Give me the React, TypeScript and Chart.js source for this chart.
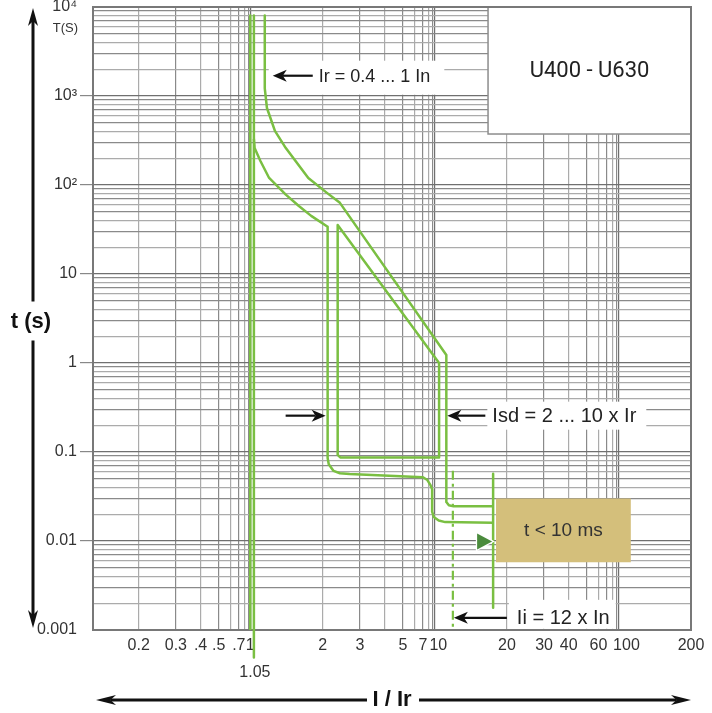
import React, { useEffect, useRef } from 'react';
import { Chart, registerables, LogarithmicScale } from 'chart.js';

Chart.register(...registerables);

// ---------- axes ----------
// The x axis of this chart is a distorted log axis: where the gridlines 1..10 sit inside each decade.
const X_DECADE_FRACTIONS = [0, 0.394, 0.596, 0.73, 0.829, 0.891, 0.938, 0.969, 0.99, 1];
const X_MIN = 0.137;
const X_MAX = 200;
const Y_MIN = 0.001;
const Y_MAX = 10000;

const X_GRID = [0.2, 0.3, 0.4, 0.5, 0.6, 0.7, 0.8, 0.9, 1, 2, 3, 4, 5, 6, 7, 8, 9, 10, 20, 30, 40, 50, 60, 70, 80, 90, 100, 200];
const X_TICK_VALUES = [0.2, 0.3, 0.4, 0.5, 0.7, 1, 2, 3, 5, 7, 10, 20, 30, 40, 60, 100, 200];
// "10" and "100" sit a little to the right of their gridlines in the reference (space before them)
const X_TICK_LABELS = ['0.2', '0.3', '.4', '.5', '.7', '1', '2', '3', '5', '7', '\u200210', '20', '30', '40', '60', '\u2003100', '200'];
const Y_TICK_VALUES = [10000, 1000, 100, 10, 1, 0.1, 0.01, 0.001];
const Y_TICK_LABELS = ['10⁴', '10³', '10²', '10', '1', '0.1', '0.01', '0.001'];

// ---------- series (x = I/Ir, y = t in s) ----------
const IR_LINE_X = [1, 1];
const IR_LINE_Y = [8000, 0.001];
const NONTRIP_X = [1.05, 1.05];
const NONTRIP_Y = [8000, 0.00049];
const LOWER_X = [1.05, 1.06, 1.14, 1.26, 1.49, 1.67, 1.84, 2.13, 2.13, 2.16, 2.29, 2.46, 2.72, 7.0, 7.77, 8.48, 8.9, 8.9, 9.7, 10.6, 11.5, 18.1];
const LOWER_Y = [330, 260, 186, 120, 78, 58, 45, 34, 0.0855, 0.073, 0.0613, 0.0577, 0.0567, 0.052, 0.0484, 0.0425, 0.038, 0.0214, 0.0186, 0.017, 0.0163, 0.016];
const UPPER_X = [1.2, 1.2, 1.23, 1.34, 1.49, 1.8, 2.12, 2.46, 11.65, 11.65, 12.0, 12.65, 18.1];
const UPPER_Y = [8000, 1220, 733, 405, 260, 120, 81, 63, 1.23, 0.0275, 0.0252, 0.0245, 0.0245];
const SHORT_X = [2.4, 2.4, 2.47, 10.65, 10.65, 2.4];
const SHORT_Y = [35.6, 0.093, 0.087, 0.087, 1.0, 35.6];
const INST_X = [18.1, 18.1];
const INST_Y = [0.057, 0.00178];
const II_X = [12.55, 12.55];
const II_Y = [0.0616, 0.001];

// ---------- annotation anchors (data units) ----------
const TITLE_BOX_LEFT = 17.4;
const TITLE_BOX_BOTTOM = 374;
const TAN_BOX_X = [18.5, 117];
const TAN_BOX_Y = [0.03, 0.00577];
const TRIANGLE_TIP = [17.96, 0.0099];
const IR_ARROW_TIP = [1.31, 1690];
const ISD_LEFT_TIP = [2.13, 0.256];
const ISD_RIGHT_TIP = [11.65, 0.256];
const II_ARROW_TIP = [12.55, 0.00137];

const GREEN = '#7abf42';
const FONT = '"Liberation Sans", Arial, sans-serif';

function warp(v: number): number {
  let e = Math.floor(Math.log10(v) + 1e-12);
  let m = v / Math.pow(10, e);
  if (m >= 10) { m /= 10; e += 1; }
  if (m < 1) { m *= 10; e -= 1; }
  const i = Math.min(8, Math.max(0, Math.floor(m) - 1));
  const t = m - (i + 1);
  const f0 = X_DECADE_FRACTIONS[i];
  const f1 = X_DECADE_FRACTIONS[i + 1];
  return e + f0 + t * (f1 - f0);
}

function unwarp(w: number): number {
  const e = Math.floor(w);
  const f = w - e;
  let i = 0;
  while (i < 8 && f > X_DECADE_FRACTIONS[i + 1]) i++;
  const f0 = X_DECADE_FRACTIONS[i];
  const f1 = X_DECADE_FRACTIONS[i + 1];
  return (i + 1 + (f - f0) / (f1 - f0)) * Math.pow(10, e);
}

class WarpedLogScale extends LogarithmicScale {
  static id = 'warpedLog';
  static defaults = {};
  getPixelForValue(value: number): number {
    if (value === undefined || value === null || isNaN(value) || value <= 0) return NaN;
    const a = warp(this.min);
    const b = warp(this.max);
    return this.getPixelForDecimal((warp(value) - a) / (b - a));
  }
  getValueForPixel(pixel: number): number {
    const a = warp(this.min);
    const b = warp(this.max);
    return unwarp(a + this.getDecimalForPixel(pixel) * (b - a));
  }
}
Chart.register(WarpedLogScale as any);

function mantissa(v: number): number {
  const e = Math.floor(Math.log10(v) + 1e-9);
  return Math.round(v / Math.pow(10, e));
}

function gridColor(c: any): string {
  const v = c.tick && c.tick.value;
  if (!v) return '#999';
  const m = mantissa(v);
  if (m === 1) return '#707070';
  return m % 2 === 0 ? '#ababab' : '#8a8a8a';
}

function pts(xs: number[], ys: number[]) {
  return xs.map((x, i) => ({ x, y: ys[i] }));
}

function arrow(ctx: CanvasRenderingContext2D, tx: number, ty: number, px: number, py: number, len: number, half: number, lw: number) {
  const ang = Math.atan2(py - ty, px - tx);
  const c = Math.cos(ang), s = Math.sin(ang);
  const bx = px - len * c, by = py - len * s;
  const nx = px - len * 0.72 * c, ny = py - len * 0.72 * s;
  ctx.beginPath();
  ctx.moveTo(tx, ty);
  ctx.lineTo(nx, ny);
  ctx.lineWidth = lw;
  ctx.stroke();
  ctx.beginPath();
  ctx.moveTo(px, py);
  ctx.lineTo(bx - half * s, by + half * c);
  ctx.lineTo(nx, ny);
  ctx.lineTo(bx + half * s, by - half * c);
  ctx.closePath();
  ctx.fill();
}

const decorations = {
  id: 'decorations',
  beforeDatasetsDraw(chart: any) {
    const { ctx, chartArea: a, scales } = chart;
    const X = scales.x, Y = scales.y;
    ctx.save();
    // title box
    const bx = X.getPixelForValue(TITLE_BOX_LEFT);
    const by = Y.getPixelForValue(TITLE_BOX_BOTTOM);
    ctx.fillStyle = '#ffffff';
    ctx.fillRect(bx, a.top, a.right - bx, by - a.top);
    ctx.strokeStyle = '#8c8c8c';
    ctx.lineWidth = 1.5;
    ctx.strokeRect(bx, a.top, a.right - bx, by - a.top);
    // tan box
    const tx0 = X.getPixelForValue(TAN_BOX_X[0]), tx1 = X.getPixelForValue(TAN_BOX_X[1]);
    const ty0 = Y.getPixelForValue(TAN_BOX_Y[0]), ty1 = Y.getPixelForValue(TAN_BOX_Y[1]);
    ctx.fillStyle = '#d4bf7b';
    ctx.fillRect(tx0, ty0, tx1 - tx0, ty1 - ty0);
    // white label boxes
    ctx.fillStyle = '#ffffff';
    ctx.font = `18px ${FONT}`;
    {
      const x = X.getPixelForValue(IR_ARROW_TIP[0]), y = Y.getPixelForValue(IR_ARROW_TIP[1]);
      const w = ctx.measureText('Ir = 0.4 ... 1 In').width;
      ctx.fillRect(x - 4, y - 15, 4 + 46 + w + 14, 34);
    }
    ctx.font = `20px ${FONT}`;
    {
      const x = X.getPixelForValue(ISD_RIGHT_TIP[0]) + 1, y = Y.getPixelForValue(ISD_RIGHT_TIP[1]);
      const w = ctx.measureText('Isd = 2 ... 10 x Ir').width;
      ctx.fillRect(x + 40, y - 14, 5 + w + 10, 28);
    }
    {
      const x = X.getPixelForValue(II_ARROW_TIP[0]) + 1, y = Y.getPixelForValue(II_ARROW_TIP[1]);
      const w = ctx.measureText('Ii = 12 x In').width;
      ctx.fillRect(x + 55, y - 18, 8 + w + 6, 29);
    }
    // plot frame
    ctx.strokeStyle = '#787878';
    ctx.lineWidth = 2;
    ctx.strokeRect(a.left, a.top, a.right - a.left, a.bottom - a.top);
    ctx.restore();
  },
  afterDatasetsDraw(chart: any) {
    const { ctx, chartArea: a, scales } = chart;
    const X = scales.x, Y = scales.y;
    ctx.save();
    ctx.textBaseline = 'middle';
    // title
    const bx = X.getPixelForValue(TITLE_BOX_LEFT);
    const by = Y.getPixelForValue(TITLE_BOX_BOTTOM);
    ctx.fillStyle = '#222';
    ctx.textAlign = 'center';
    ctx.font = '22px Roboto, "Liberation Sans", sans-serif';
    ctx.fillText('U400 - U630', (bx + a.right) / 2, (a.top + by) / 2 + 1);
    // tan box text
    const tx0 = X.getPixelForValue(TAN_BOX_X[0]), tx1 = X.getPixelForValue(TAN_BOX_X[1]);
    const ty0 = Y.getPixelForValue(TAN_BOX_Y[0]), ty1 = Y.getPixelForValue(TAN_BOX_Y[1]);
    ctx.fillStyle = '#333';
    ctx.font = `19px ${FONT}`;
    ctx.fillText('t < 10 ms', (tx0 + tx1) / 2, (ty0 + ty1) / 2);
    // triangle
    {
      const x = X.getPixelForValue(TRIANGLE_TIP[0]), y = Y.getPixelForValue(TRIANGLE_TIP[1]);
      ctx.beginPath();
      ctx.moveTo(x, y);
      ctx.lineTo(x - 15, y - 8);
      ctx.lineTo(x - 15, y + 8);
      ctx.closePath();
      ctx.strokeStyle = '#ffffff';
      ctx.lineWidth = 2.5;
      ctx.stroke();
      ctx.fillStyle = '#4b8b3d';
      ctx.fill();
    }
    ctx.fillStyle = '#111';
    ctx.strokeStyle = '#111';
    ctx.textAlign = 'left';
    // Ir label
    {
      const x = X.getPixelForValue(IR_ARROW_TIP[0]), y = Y.getPixelForValue(IR_ARROW_TIP[1]);
      arrow(ctx, x + 40, y, x, y, 14, 6, 2.2);
      ctx.fillStyle = '#222';
      ctx.font = `18px ${FONT}`;
      ctx.fillText('Ir = 0.4 ... 1 In', x + 46, y + 1);
    }
    // Isd label
    {
      ctx.fillStyle = '#111';
      const lx = X.getPixelForValue(ISD_LEFT_TIP[0]) - 2, y = Y.getPixelForValue(ISD_LEFT_TIP[1]);
      arrow(ctx, lx - 40, y, lx, y, 14, 6, 2.2);
      const rx = X.getPixelForValue(ISD_RIGHT_TIP[0]) + 1;
      arrow(ctx, rx + 38, y, rx, y, 14, 6, 2.2);
      ctx.fillStyle = '#222';
      ctx.font = `20px ${FONT}`;
      ctx.fillText('Isd = 2 ... 10 x Ir', rx + 45, y + 1);
    }
    // Ii label
    {
      ctx.fillStyle = '#111';
      const x = X.getPixelForValue(II_ARROW_TIP[0]) + 1, y = Y.getPixelForValue(II_ARROW_TIP[1]);
      arrow(ctx, x + 53, y, x, y, 14, 6, 2.2);
      ctx.fillStyle = '#222';
      ctx.font = `20px ${FONT}`;
      ctx.fillText('Ii = 12 x In', x + 63, y + 1);
    }
    // axis decorations
    ctx.fillStyle = '#333';
    ctx.textAlign = 'right';
    ctx.font = `13px ${FONT}`;
    ctx.fillText('T(S)', 78, a.top + 21);
    ctx.textAlign = 'center';
    ctx.font = `16px ${FONT}`;
    ctx.fillText('1.05', X.getPixelForValue(1.05) + 1, 673);

    ctx.fillStyle = '#111';
    ctx.strokeStyle = '#111';
    const midY = (a.top + a.bottom) / 2 + 3;
    const ax = 33;
    arrow(ctx, ax, midY - 20, ax, a.top + 1, 18, 5, 3);
    arrow(ctx, ax, midY + 19, ax, a.bottom - 2, 18, 5, 3);
    ctx.font = `bold 22px ${FONT}`;
    ctx.fillText('t (s)', 31, midY);
    const midX = (a.left + a.right) / 2;
    const ay = 700;
    arrow(ctx, midX - 25, ay, a.left + 3, ay, 20, 5, 3);
    arrow(ctx, midX + 27, ay, a.right, ay, 20, 5, 3);
    ctx.fillText('I / Ir', midX, ay);
    ctx.restore();
  },
};

function lineDs(xs: number[], ys: number[], extra: any = {}) {
  return {
    data: pts(xs, ys),
    showLine: true,
    borderColor: GREEN,
    backgroundColor: GREEN,
    borderWidth: 2.5,
    pointRadius: 0,
    tension: 0,
    fill: false,
    borderJoinStyle: 'round',
    ...extra,
  };
}

export default function App() {
  const ref = useRef<HTMLCanvasElement>(null);
  useEffect(() => {
    const canvas = ref.current;
    if (!canvas) return;
    const chart = new Chart(canvas, {
      type: 'scatter',
      data: {
        datasets: [
          lineDs(IR_LINE_X, IR_LINE_Y),
          lineDs(NONTRIP_X, NONTRIP_Y, { clip: false }),
          lineDs(LOWER_X, LOWER_Y),
          lineDs(UPPER_X, UPPER_Y),
          lineDs(SHORT_X, SHORT_Y),
          lineDs(INST_X, INST_Y),
          lineDs(II_X, II_Y, { borderDash: [9, 4, 3, 4], borderWidth: 2.2 }),
        ] as any,
      },
      options: {
        animation: false,
        responsive: false,
        events: [],
        layout: { padding: { top: 7, right: 21, left: 0, bottom: 0 } },
        plugins: { legend: { display: false }, tooltip: { enabled: false }, title: { display: false } },
        scales: {
          x: {
            type: 'warpedLog' as any,
            min: X_MIN,
            max: X_MAX,
            afterBuildTicks: (axis: any) => {
              axis.ticks = X_GRID.map((v) => ({ value: v }));
            },
            afterFit: (scale: any) => {
              scale.height = 83;
              scale.paddingLeft = 0;
              scale.paddingRight = 0;
            },
            border: { display: false },
            grid: { color: gridColor, lineWidth: 1.2, drawTicks: false },
            ticks: {
              autoSkip: false,
              maxRotation: 0,
              minRotation: 0,
              padding: 6,
              color: '#333',
              font: { family: FONT, size: 16 },
              callback: (value: any) => {
                const i = X_TICK_VALUES.findIndex((t) => Math.abs(t - value) / t < 1e-6);
                return i >= 0 ? X_TICK_LABELS[i] : '';
              },
            },
          } as any,
          y: {
            type: 'logarithmic',
            min: Y_MIN,
            max: Y_MAX,
            afterBuildTicks: (axis: any) => {
              const t: { value: number }[] = [];
              for (let e = -3; e <= 3; e++) {
                for (let m = 1; m <= 9; m++) t.push({ value: Number((m * Math.pow(10, e)).toPrecision(6)) });
              }
              t.push({ value: 10000 });
              axis.ticks = t;
            },
            afterFit: (scale: any) => {
              scale.width = 93;
              scale.paddingTop = 0;
              scale.paddingBottom = 0;
            },
            border: { display: false },
            grid: {
              color: gridColor,
              lineWidth: 1.2,
              drawTicks: true,
              tickLength: 13,
              tickColor: (c: any) => {
                const v = c.tick && c.tick.value;
                return v && mantissa(v) === 1 && v < 5000 && v > 0.002 ? '#888' : 'rgba(0,0,0,0)';
              },
            },
            ticks: {
              autoSkip: false,
              padding: 3,
              color: '#333',
              font: { family: FONT, size: 16 },
              callback: (value: any) => {
                const i = Y_TICK_VALUES.findIndex((t) => Math.abs(t - value) / t < 1e-6);
                return i >= 0 ? Y_TICK_LABELS[i] : '';
              },
            },
          } as any,
        },
      },
      plugins: [decorations as any],
    });
    return () => chart.destroy();
  }, []);
  return (
    <div style={{ position: 'fixed', left: 0, top: 0, width: 712, height: 713, background: '#fff' }}>
      <canvas ref={ref} width={712} height={713} style={{ display: 'block', width: 712, height: 713 }} />
    </div>
  );
}
